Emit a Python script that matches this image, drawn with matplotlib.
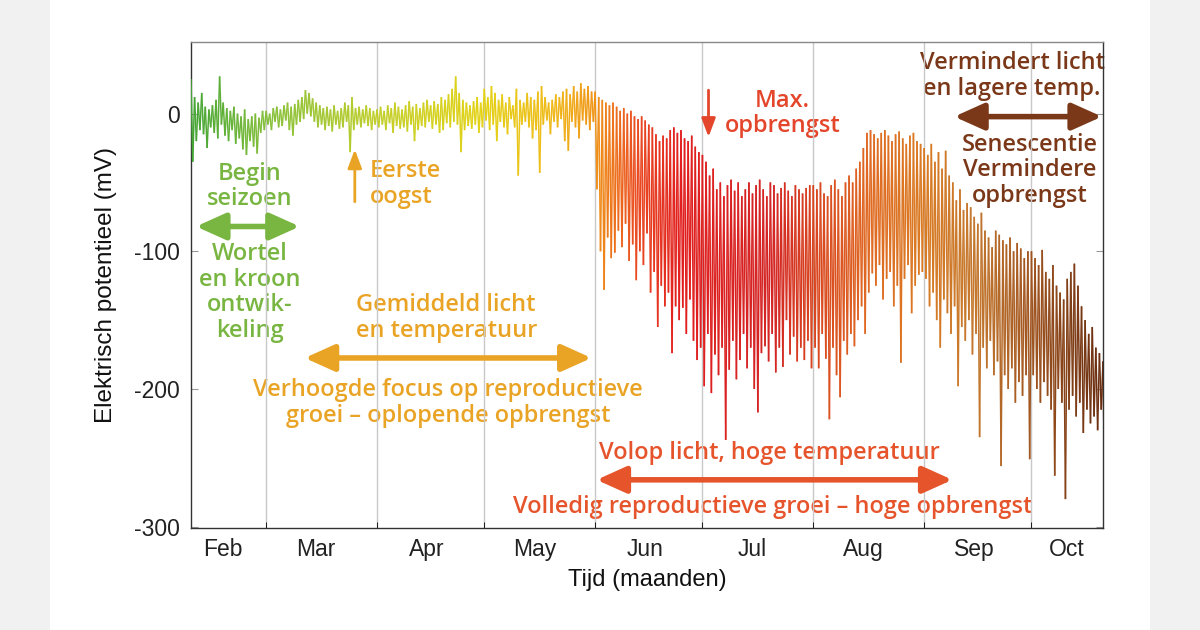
import numpy as np
import matplotlib
matplotlib.use("Agg")
import matplotlib.pyplot as plt
from matplotlib.collections import LineCollection
from matplotlib.colors import LinearSegmentedColormap
from matplotlib.patches import Rectangle

# ---------------- data (daily high / low, mV) ----------------
start_day = 38  # day of year (Feb 8)
hi_feb = [25, 12, 8, 15, 5, 3, 6, 10, 27, 8, 4, 2, 5, 0, -2, 3, -4, -2, 0, -3, 2]
lo_feb = [-35, -20, -12, -15, -25, -10, -14, -18, -8, -16, -20, -12, -22, -18, -26, -30, -20, -24, -29, -14, -12]
hi_mar = [2, 0, 4, 5, 3, 6, 8, 5, 7, 10, 12, 17, 15, 11, 8, 6, 4, 5, 3, 6, 2, 4, 8, 6, 12, 4, 5, 3, 6, 4, 2]
lo_mar = [-8, -12, -6, -10, -9, -5, -12, -16, -8, -6, -4, 0, -2, -6, -10, -8, -12, -9, -13, -8, -11, -10, -6, -28, -12, -8, -10, -7, -9, -12, -8]
hi_apr = [3, 5, 2, 6, 4, 8, 5, 3, 6, 9, 5, 7, 4, 8, 10, 6, 9, 7, 12, 10, 14, 18, 27, 15, 10, 8, 6, 9, 12, 8]
lo_apr = [-10, -8, -12, -7, -14, -9, -11, -10, -13, -8, -20, -12, -9, -10, -6, -11, -8, -14, -12, -7, -10, -6, -8, -28, -12, -9, -11, -8, -14, -10]
hi_may = [18, 12, 20, 15, 10, 14, 8, 12, 6, 18, 10, 8, 15, 12, 10, 16, 20, 12, 8, 10, 14, 12, 16, 18, 14, 20, 16, 22, 18, 20, 16]
lo_may = [-5, -12, -8, -20, -6, -10, -15, -4, -10, -45, -8, -6, -10, -18, -12, -43, -8, -5, -15, -6, -10, -4, -20, -27, -6, -10, -18, -5, -8, -12, -6]
hi_jun = [16, 12, 10, 8, 6, 8, 5, 2, 4, 0, 2, -2, -4, -2, -5, -8, -10, -15, -20, -16, -18, -12, -10, -14, -12, -18, -20, -16, -24, -28]
lo_jun = [-55, -100, -128, -90, -105, -101, -85, -97, -80, -107, -95, -121, -100, -110, -87, -130, -115, -155, -125, -140, -130, -174, -140, -150, -141, -160, -135, -165, -179, -170]
hi_jul = [-30, -35, -45, -40, -55, -50, -60, -52, -48, -56, -50, -60, -55, -50, -58, -52, -48, -55, -60, -50, -52, -58, -54, -50, -56, -60, -52, -55, -58, -54, -52]
lo_jul = [-198, -160, -203, -175, -190, -170, -237, -186, -165, -193, -179, -160, -185, -170, -200, -217, -174, -169, -180, -160, -188, -170, -184, -150, -175, -162, -180, -170, -179, -165, -185]
hi_aug = [-52, -55, -50, -58, -60, -52, -48, -55, -60, -50, -45, -50, -40, -35, -25, -14, -12, -15, -18, -14, -12, -16, -20, -15, -13, -18, -22, -16, -14, -20, -22]
lo_aug = [-170, -185, -160, -178, -222, -170, -190, -206, -165, -175, -160, -169, -150, -140, -160, -130, -116, -125, -110, -135, -120, -115, -140, -125, -181, -120, -110, -145, -125, -117, -115]
hi_sep = [-25, -30, -22, -35, -28, -40, -27, -45, -50, -63, -55, -70, -65, -68, -75, -80, -72, -85, -90, -97, -85, -88, -92, -95, -90, -100, -94, -98, -105, -100]
lo_sep = [-120, -140, -130, -150, -170, -135, -145, -160, -140, -198, -155, -165, -150, -175, -160, -235, -170, -185, -165, -190, -180, -256, -190, -200, -185, -210, -195, -205, -190, -251]
hi_oct = [-100, -105, -110, -99, -115, -120, -110, -125, -130, -135, -120, -115, -109, -125, -140, -150, -160, -155, -170, -174, -180]
lo_oct = [-190, -200, -210, -195, -205, -215, -263, -200, -210, -280, -215, -205, -220, -210, -232, -215, -225, -220, -230, -215, -285]

month_starts = [59, 90, 120, 151, 181, 212, 243, 273]
month_label_pos = [47, 73, 104, 134, 165, 195, 226, 257, 283]
month_labels = ["Feb", "Mar", "Apr", "May", "Jun", "Jul", "Aug", "Sep", "Oct"]
y_ticks = [0, -100, -200, -300]

# ---------------- build series ----------------
hi = hi_feb + hi_mar + hi_apr + hi_may + hi_jun + hi_jul + hi_aug + hi_sep + hi_oct
lo = lo_feb + lo_mar + lo_apr + lo_may + lo_jun + lo_jul + lo_aug + lo_sep + lo_oct
days = np.arange(len(hi)) + start_day
xs = np.empty(2 * len(hi))
ys = np.empty(2 * len(hi))
xs[0::2] = days
xs[1::2] = days + 0.5
ys[0::2] = hi
ys[1::2] = lo

cstops = [(38, "#45a535"), (59, "#86c03c"), (90, "#c2cf2a"), (120, "#e4d215"),
          (140, "#f0b81a"), (151, "#f09418"), (163, "#ea4a22"), (175, "#e21e1e"),
          (200, "#d42424"), (212, "#d8441f"), (228, "#e06a22"), (243, "#da7a22"),
          (258, "#c4782e"), (273, "#a25620"), (293, "#6a2e10")]
x0, x1 = 38, 293
cmap = LinearSegmentedColormap.from_list(
    "season", [((d - x0) / (x1 - x0), c) for d, c in cstops])

# ---------------- figure ----------------
fig = plt.figure(figsize=(12, 6.3), dpi=100)
fig.patch.set_facecolor("#f1f1f1")
fig.add_artist(Rectangle((50 / 1200, 0), 1100 / 1200, 1, transform=fig.transFigure,
                         facecolor="white", edgecolor="none", zorder=-10))
ax = fig.add_axes([191 / 1200, 1 - 528 / 630, (1103 - 191) / 1200, (528 - 42) / 630])
ax.set_facecolor("white")

pts = np.column_stack([xs, ys]).reshape(-1, 1, 2)
segs = np.concatenate([pts[:-1], pts[1:]], axis=1)
mid = (xs[:-1] + xs[1:]) / 2
lc = LineCollection(segs, colors=cmap((mid - x0) / (x1 - x0)), linewidths=1.1, zorder=3)
ax.add_collection(lc)

ax.set_xlim(x0, x1)
ax.set_ylim(-301, 52)

ax.set_xticks(month_label_pos)
ax.set_xticklabels(month_labels)
ax.set_xticks(month_starts, minor=True)
ax.tick_params(axis="x", which="major", length=0, pad=7)
ax.tick_params(axis="x", which="minor", length=4, direction="in", top=False)
ax.grid(True, which="minor", axis="x", color="#c8c8c8", linewidth=1.0)
ax.set_yticks(y_ticks)
ax.set_yticklabels([str(v) for v in y_ticks])
ax.tick_params(axis="y", which="major", length=5, direction="in", right=True, pad=8,
               color="#999999")
for lab in ax.get_xticklabels() + ax.get_yticklabels():
    lab.set_fontfamily("Liberation Sans")
    lab.set_fontsize(16.5)
    lab.set_color("#222222")
for sp in ax.spines.values():
    sp.set_color("#333333")
    sp.set_linewidth(1.0)
ax.spines["top"].set_color("#888888")

ax.set_xlabel("Tijd (maanden)", fontfamily="Liberation Sans", fontsize=17, color="#111111", labelpad=6)
ax.set_ylabel("Elektrisch potentieel (mV)", fontfamily="Liberation Sans", fontsize=17.5,
              color="#111111", labelpad=12)

# ---------------- annotations ----------------
AF = dict(fontfamily="Open Sans", fontweight="semibold", fontsize=17, linespacing=1.1, zorder=0.3)
green = "#78b641"
gold = "#e9a426"
red = "#e4462c"
red2 = "#e6542c"
brown = "#7a3818"


def darrow(xa, xb, y, color, lw=4, ms=18):
    ax.annotate("", xy=(xb, y), xytext=(xa, y),
                arrowprops=dict(arrowstyle="<|-|>,head_length=1.0,head_width=0.45",
                                color=color, lw=lw, mutation_scale=ms,
                                shrinkA=0, shrinkB=0), annotation_clip=False)


ax.text(54.5, -53, "Begin\nseizoen", color=green, ha="center", va="center", **AF)
darrow(39.4, 68.4, -82, green)
ax.text(54.5, -130, "Wortel\nen kroon\nontwik-\nkeling", color=green, ha="center", va="center", **AF)

ax.annotate("", xy=(83.8, -26), xytext=(83.8, -64),
            arrowprops=dict(arrowstyle="-|>,head_length=0.8,head_width=0.3", color=gold,
                            lw=2, mutation_scale=14, shrinkA=0, shrinkB=0))
ax.text(88, -51, "Eerste\noogst", color=gold, ha="left", va="center", **AF)

ax.text(84.1, -148.6, "Gemiddeld licht\nen temperatuur", color=gold, ha="left", va="center", **AF)
darrow(69.8, 150, -177.5, gold)
ax.text(109.8, -210, "Verhoogde focus op reproductieve\ngroei \u2013 oplopende opbrengst",
        color=gold, ha="center", va="center", **AF)

ax.annotate("", xy=(182.7, -17), xytext=(182.7, 17),
            arrowprops=dict(arrowstyle="-|>,head_length=0.8,head_width=0.3", color=red,
                            lw=2, mutation_scale=14, shrinkA=0, shrinkB=0))
ax.text(203.4, 0, "Max.\nopbrengst", color=red, ha="center", va="center", **AF)

ax.text(267.6, 27.5, "Vermindert licht\nen lagere temp.", color=brown, ha="center", va="center", **AF)
darrow(251.4, 292.7, -2.2, brown)
ax.text(272.4, -41.3, "Senescentie\nVermindere\nopbrengst", color=brown, ha="center", va="center", **AF)

ax.text(199.7, -246.4, "Volop licht, hoge temperatuur", color=red2, ha="center", va="center", **AF)
darrow(151.4, 250.9, -266, red2)
ax.text(200.6, -285.5, "Volledig reproductieve groei \u2013 hoge opbrengst", color=red2,
        ha="center", va="center", **AF)

fig.savefig("out.png", dpi=100, facecolor=fig.get_facecolor())
